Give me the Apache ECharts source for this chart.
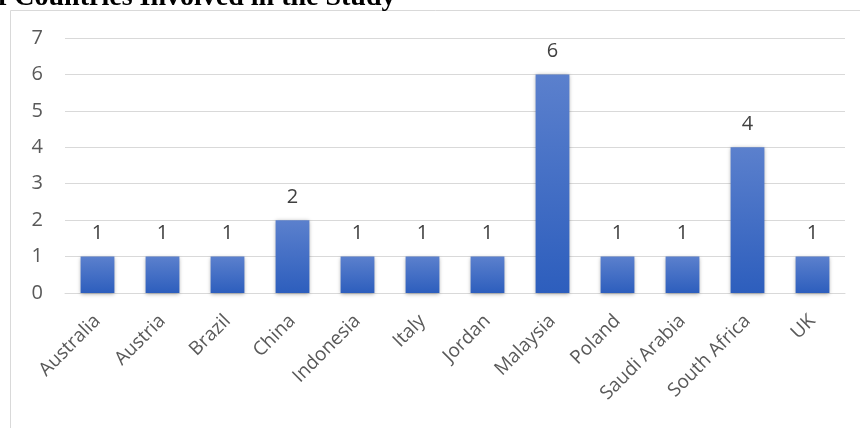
<!DOCTYPE html>
<html>
<head>
<meta charset="utf-8">
<script src="https://cdn.jsdelivr.net/npm/echarts@6/dist/echarts.min.js"></script>
<style>
  html, body { margin: 0; padding: 0; background: #fff; }
  #chart { width: 860px; height: 428px; }
</style>
</head>
<body>
<div id="chart"></div>
<script>
const countries = ['Australia', 'Austria', 'Brazil', 'China', 'Indonesia', 'Italy', 'Jordan',
  'Malaysia', 'Poland', 'Saudi Arabia', 'South Africa', 'UK'];
const studyCounts = [1, 1, 1, 2, 1, 1, 1, 6, 1, 1, 4, 1];
const titleText = 'f Countries Involved in the Study';

const chart = echarts.init(document.getElementById('chart'));

const option = {
  animation: false,
  grid: { left: 65, right: 15, top: 38, bottom: 135 },
  graphic: [
    // frame of the chart area
    { type: 'line', shape: { x1: 10.5, y1: 10.5, x2: 860, y2: 10.5 }, style: { stroke: '#D9D9D9', lineWidth: 1 } },
    { type: 'line', shape: { x1: 10.5, y1: 10.5, x2: 10.5, y2: 428 }, style: { stroke: '#D9D9D9', lineWidth: 1 } },
    {
      type: 'text', left: -2, top: -16,
      style: { text: titleText, font: 'bold 28px "Liberation Serif"', fill: '#000' }
    }
  ],
  xAxis: {
    type: 'category',
    data: countries,
    axisTick: { show: false },
    axisLine: { lineStyle: { color: '#D9D9D9', width: 1 } },
    axisLabel: {
      rotate: 45, interval: 0, color: '#595959',
      fontFamily: 'Open Sans', fontSize: 19, margin: 25
    }
  },
  yAxis: {
    type: 'value',
    min: 0, max: 7, interval: 1,
    axisLine: { show: false },
    axisTick: { show: false },
    splitLine: { lineStyle: { color: '#D9D9D9', width: 1 } },
    axisLabel: { color: '#595959', fontFamily: 'Open Sans', fontSize: 20, margin: 22 }
  },
  series: [{
    type: 'bar',
    data: studyCounts,
    barCategoryGap: '48%',
    itemStyle: {
      color: new echarts.graphic.LinearGradient(0, 0, 0, 1, [
        { offset: 0, color: '#5B80CD' },
        { offset: 1, color: '#2D5EBD' }
      ]),
      shadowColor: 'rgba(0,0,0,0.35)',
      shadowBlur: 4,
      shadowOffsetY: 1
    },
    label: {
      show: true, position: 'top', distance: 13,
      color: '#404040', fontFamily: 'Open Sans', fontSize: 20
    }
  }]
};

chart.setOption(option);
</script>
</body>
</html>
